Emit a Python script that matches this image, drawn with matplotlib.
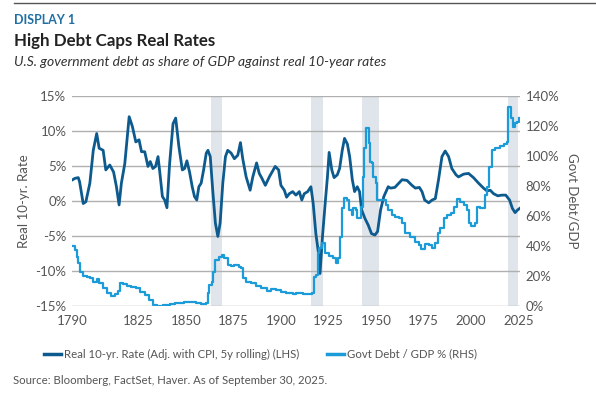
import matplotlib
matplotlib.use("Agg")
import matplotlib.pyplot as plt
from matplotlib.lines import Line2D

plt.rcParams['font.family'] = ['Lato', 'DejaVu Sans']

# real 10-yr rate (%)
rate_years = [1790, 1791.6, 1793.3, 1794, 1795.9, 1797.3, 1799.4, 1801.2, 1803, 1804.3,
              1806.4, 1807.8, 1809.9, 1811.9, 1813.4, 1814.8, 1816, 1817.8, 1820.1, 1821.8,
              1823.6, 1825.3, 1826.6, 1828.3, 1830, 1831.2, 1832.6, 1834, 1835.3, 1836.1,
              1837.6, 1838.8, 1840, 1841.4, 1843.2, 1844.6, 1846.3, 1848.1, 1849.3, 1850.5,
              1851.9, 1853.3, 1854.5, 1855.7, 1856.8, 1858, 1859.3, 1860.7, 1861.6, 1862.8,
              1864.1, 1865.5, 1866.8, 1868, 1869.4, 1870.8, 1872, 1873.8, 1875.5, 1877.3,
              1878.7, 1879.9, 1881.7, 1883.8, 1885.2, 1887.2, 1888.6, 1890, 1891.8, 1893.9,
              1897, 1898.8, 1900, 1901.8, 1903, 1904.4, 1906.2, 1907.9, 1909.7, 1911,
              1912.3, 1914.1, 1915.8, 1917, 1918.4, 1919.8, 1920.6, 1921.9, 1923.3, 1924.5,
              1925.4, 1926.8, 1928, 1929.7, 1930.9, 1932.3, 1933.5, 1935, 1936.2, 1937.6,
              1938.8, 1940.2, 1941.4, 1942.5, 1944.2, 1946, 1947.7, 1949.5, 1950.9, 1952.5,
              1954.2, 1956.5, 1957.7, 1960, 1962.1, 1963.8, 1966.4, 1969, 1970.8, 1972.9,
              1974.3, 1975.7, 1977.8, 1979.6, 1981.3, 1983, 1984.8, 1986.5, 1988.3, 1990,
              1992.2, 1993.5, 1996.2, 1998.8, 2001.4, 2004.1, 2006.7, 2008.5, 2010.2, 2012,
              2014.2, 2016.4, 2018.4, 2020.4, 2021.9, 2023.3, 2024.7, 2025.7]
rate = [2.95, 3.2, 3.3, 2.7, -0.4, -0.15, 2.5, 7.2, 9.6, 7.5,
        7.2, 4.4, 5.1, 4.1, 2.0, -0.6, 2.5, 5.3, 12.0, 10.6,
        8.4, 8.7, 7.0, 7.0, 4.9, 5.6, 4.6, 4.9, 6.3, 4.4,
        0.6, 0.1, -1.0, 5.3, 11.0, 11.8, 7.7, 4.4, 4.6, 5.7,
        4.1, 2.0, 0.6, 0.1, 2.0, 2.5, 4.4, 6.8, 7.2, 6.3,
        1.5, -3.2, -5.1, -3.2, 2.5, 6.3, 7.2, 6.8, 6.0, 6.5,
        8.3, 6.0, 3.4, 1.5, 3.4, 5.4, 3.9, 3.2, 2.2, 3.4,
        4.9, 4.4, 2.2, 1.5, 0.5, 1.0, 1.3, 0.8, 1.3, 0.1,
        1.0, 1.3, 2.0, -0.4, -4.7, -7.5, -10.4, -5.1, -0.4, 3.4,
        6.9, 4.4, 3.3, 3.7, 4.6, 7.2, 8.9, 8.1, 6.3, 3.0,
        1.3, 2.0, 1.3, -1.3, -2.5, -3.5, -4.7, -4.9, -4.4, -1.3,
        0.6, 2.0, 1.8, 1.9, 2.5, 3.0, 2.9, 2.2, 1.8, 1.9,
        1.3, 0.1, -0.3, 0.1, 0.3, 3.0, 6.3, 7.1, 6.3, 4.6,
        3.7, 3.4, 3.8, 3.9, 3.3, 2.5, 1.8, 1.4, 1.5, 1.0,
        0.7, 0.8, 0.8, 0.1, -1.1, -1.7, -1.3, -1.1]

# government debt / GDP (%)
debt_years = [1790, 1791.6, 1792.5, 1793.3, 1794.2, 1795.6, 1797.7, 1799.4, 1800.8, 1803,
              1804.3, 1806.4, 1808.5, 1810.8, 1812.6, 1814.3, 1815.5, 1817, 1818.7, 1821.3,
              1823.9, 1825.7, 1828.3, 1830.6, 1832.7, 1834.8, 1837.9, 1841.4, 1844, 1846.7,
              1848.8, 1850.2, 1852.8, 1855.4, 1858, 1860.3, 1861.6, 1862.4, 1863.8, 1864.5,
              1865.5, 1867.3, 1869, 1870.2, 1872, 1873.8, 1875.5, 1877.8, 1879, 1880.2,
              1881.7, 1884.3, 1886.9, 1889.6, 1892.5, 1894.8, 1897.4, 1900, 1902.7, 1906.2,
              1907.9, 1911.4, 1914.9, 1916.6, 1917.5, 1918.4, 1919.3, 1920.2, 1921.9, 1923.3,
              1925.1, 1927.2, 1928.9, 1930.3, 1931.2, 1932.1, 1933.3, 1935, 1935.9, 1937.2,
              1938.1, 1939.5, 1940.3, 1941.2, 1942.1, 1943, 1943.9, 1944.7, 1945.6, 1946.2,
              1946.9, 1947.8, 1948.7, 1949.9, 1950.8, 1954.2, 1955.6, 1956.5, 1958.6, 1960.3,
              1962.1, 1963.8, 1965.6, 1968.2, 1970.8, 1972.6, 1974, 1976.1, 1977.8, 1979.6,
              1981, 1982.7, 1984, 1985.7, 1987.5, 1989.8, 1991, 1992.7, 1994.5, 1996.2,
              1998, 1999.2, 2000.3, 2002, 2003.2, 2005, 2006.7, 2007.6, 2008.5, 2009.4,
              2011, 2012.8, 2015.4, 2017.7, 2019.1, 2019.8, 2020.7, 2021.2, 2022.1, 2023.3,
              2024.2, 2025.4]
debt = [39.8, 37.1, 32.7, 28.2, 22.7, 19.8, 19.3, 18.2, 16.0, 17.6,
        14.9, 11.6, 8.2, 6.4, 7.8, 10.0, 15.3, 14.4, 13.1, 12.7,
        11.6, 9.3, 7.1, 3.8, 0.4, 0.0, 0.4, 1.1, 2.0, 1.6,
        2.4, 2.4, 2.7, 1.6, 1.1, 2.0, 8.2, 13.8, 16.0, 22.7,
        30.4, 32.7, 33.8, 31.6, 27.1, 26.4, 27.1, 26.0, 24.9, 18.2,
        16.0, 14.9, 13.1, 11.6, 9.8, 10.9, 10.4, 9.3, 8.7, 7.8,
        8.2, 7.8, 7.8, 8.7, 19.3, 20.4, 34.9, 38.2, 41.6, 34.9,
        33.1, 31.6, 28.2, 31.6, 46.0, 64.9, 71.6, 70.4, 63.8, 60.4,
        64.9, 63.8, 58.2, 58.2, 66.0, 86.0, 104.9, 118.2, 118.2, 108.2,
        96.0, 94.9, 86.0, 81.6, 70.4, 70.4, 67.1, 63.8, 60.4, 59.3,
        58.2, 54.9, 48.2, 46.0, 42.7, 40.4, 37.6, 41.1, 40.4, 38.2,
        41.6, 48.2, 51.6, 58.2, 60.4, 61.6, 66.0, 71.1, 69.3, 67.1,
        63.8, 54.9, 53.1, 54.9, 66.0, 64.9, 64.9, 73.8, 79.3, 92.7,
        103.8, 104.9, 106.4, 107.8, 109.3, 132.7, 132.7, 124.9, 119.3, 121.6,
        122.7, 124.9]

# shaded periods
shade_start = [1863, 1915.9, 1942.7, 2019.8]
shade_end = [1869.2, 1922.2, 1951.6, 2025]

x_ticks = [1790, 1825, 1850, 1875, 1900, 1925, 1950, 1975, 2000, 2025]

dark = '#0d5a8e'
light = '#1b9bd8'
gray_txt = '#555555'

fig = plt.figure(figsize=(5.96, 3.95), dpi=100)
ax = fig.add_axes([0.1208, 0.226, 0.7517, 0.5317])
ax2 = ax.twinx()

for s, e in zip(shade_start, shade_end):
    ax.axvspan(s, e, color='#dfe5ea', lw=0, zorder=0)

ax.set_ylim(-15, 15)
ax.set_yticks([-15, -10, -5, 0, 5, 10, 15])
ax.set_yticklabels([f'{v}%' for v in [-15, -10, -5, 0, 5, 10, 15]])
ax.grid(axis='y', color='#b0b0b0', lw=1)
ax.set_axisbelow(True)
ax.set_xlim(1790, 2025.9)
ax.set_xticks(x_ticks)

ax2.set_ylim(0, 140)
ax2.set_yticks(range(0, 141, 20))
ax2.set_yticklabels([f'{v}%' for v in range(0, 141, 20)])

ax2.plot(debt_years, debt, color=light, lw=1.6, drawstyle='steps-post', zorder=3)
ax.plot(rate_years, rate, color=dark, lw=2.0, zorder=4)

for a in (ax, ax2):
    for sp in a.spines.values():
        sp.set_visible(False)
    a.tick_params(length=0, labelsize=9.5, colors=gray_txt, pad=4)
ax.tick_params(axis='x', pad=7)

ax.set_ylabel('Real 10-yr. Rate', fontsize=9.5, color=gray_txt, labelpad=4)
ax2.set_ylabel('Govt Debt/GDP', fontsize=9.5, color=gray_txt, rotation=270, labelpad=14)

# text around the chart
fig.add_artist(Line2D([14 / 596, 1], [1 - 2.5 / 395, 1 - 2.5 / 395], color='#555555', lw=1))
fig.text(14 / 596, 1 - 20 / 395, 'DISPLAY 1', fontsize=9, fontweight='bold', color='#1f6ea4', va='center')
fig.text(14 / 596, 1 - 41 / 395, 'High Debt Caps Real Rates', fontsize=12.2, fontweight='bold', color='#222222', va='center')
fig.text(14 / 596, 1 - 62 / 395, 'U.S. government debt as share of GDP against real 10-year rates',
         fontsize=10, style='italic', color='#333333', va='center')

handles = [Line2D([], [], color=dark, lw=2.5), Line2D([], [], color=light, lw=2.5)]
fig.legend(handles, ['Real 10-yr. Rate (Adj. with CPI, 5y rolling) (LHS)', 'Govt Debt / GDP % (RHS)'],
           loc='center', bbox_to_anchor=(0.437, 1 - 354 / 395), ncol=2, frameon=False,
           fontsize=8.2, handlelength=1.5, handletextpad=0.25, columnspacing=2.4, labelcolor=gray_txt)
fig.text(13 / 596, 1 - 380 / 395, 'Source: Bloomberg, FactSet, Haver. As of September 30, 2025.',
         fontsize=8.2, color=gray_txt, va='center')

fig.savefig('out.png', dpi=100)
